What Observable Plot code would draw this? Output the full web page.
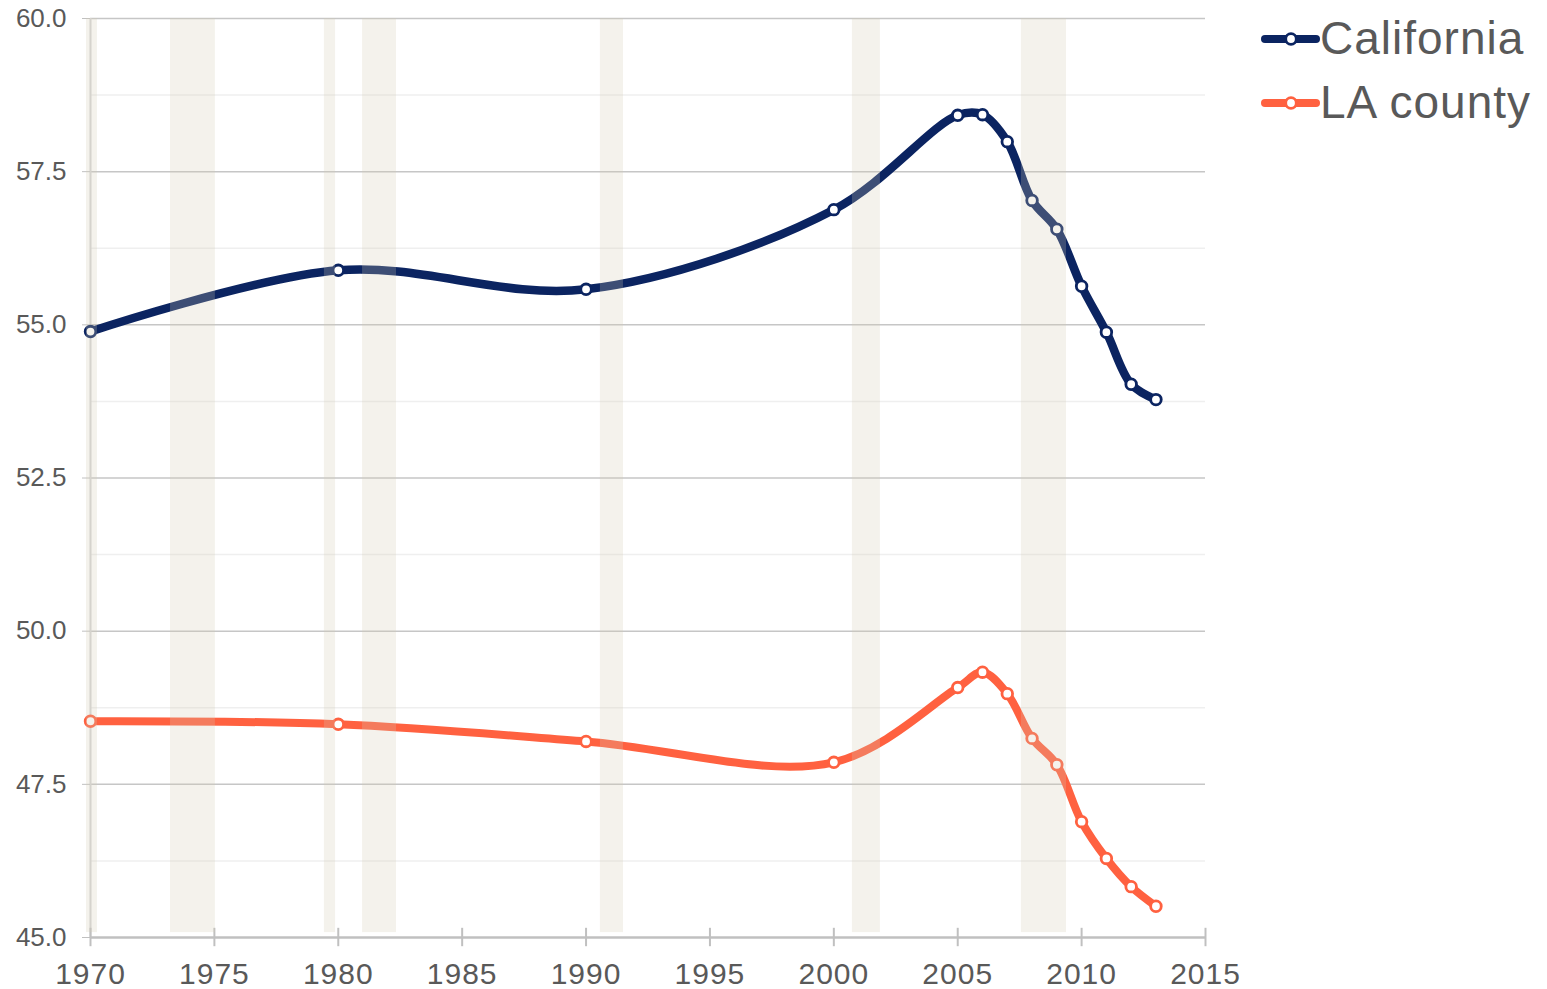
<!DOCTYPE html>
<html>
<head>
<meta charset="utf-8">
<script src="https://cdn.jsdelivr.net/npm/d3@7"></script>
<script src="https://cdn.jsdelivr.net/npm/@observablehq/plot@0.6"></script>
<style>
  body { margin: 0; background: #fff; font-family: "Liberation Sans", Arial, sans-serif; }
  #wrap { position: relative; width: 1547px; height: 989px; }
  #legend { position: absolute; left: 1255px; top: 0; }
  g[aria-label="x-axis tick label"] text { letter-spacing: 1px; }
</style>
</head>
<body>
<div id="wrap"></div>
<script>
// ---- data ----
const years = [1970, 1980, 1990, 2000, 2005, 2006, 2007, 2008, 2009, 2010, 2011, 2012, 2013];
const california = [54.89, 55.89, 55.58, 56.88, 58.42, 58.43, 57.99, 57.03, 56.56, 55.63, 54.88, 54.03, 53.78];
const laCounty   = [48.53, 48.48, 48.20, 47.86, 49.08, 49.33, 48.98, 48.25, 47.82, 46.89, 46.29, 45.83, 45.51];
const recessionStart = [1969.84, 1973.23, 1979.44, 1980.98, 1990.58, 2000.75, 2007.57];
const recessionEnd   = [1970.28, 1975.04, 1979.89, 1982.35, 1991.51, 2001.88, 2009.39];
const xTicks = [1970, 1975, 1980, 1985, 1990, 1995, 2000, 2005, 2010, 2015];
const yTicks = [45, 47.5, 50, 52.5, 55, 57.5, 60];
const yMinorTicks = [46.25, 48.75, 51.25, 53.75, 56.25, 58.75];
const seriesNames = ["California", "LA county"];
const seriesColors = ["#0b2461", "#ff6140"];

// ---- tables built from the arrays ----
const caRows = years.map((y, i) => ({year: y, value: california[i]}));
const laRows = years.map((y, i) => ({year: y, value: laCounty[i]}));
const bands = recessionStart.map((s, i) => ({start: s, end: recessionEnd[i]}));

const gridColor = "#c6c6c6";
const axisColor = "#c0c0c0";
const textColor = "#595959";

const chart = Plot.plot({
  width: 1547,
  height: 989,
  marginLeft: 90,
  marginRight: 342,
  marginTop: 18,
  marginBottom: 52,
  style: {fontFamily: '"Liberation Sans", Arial, sans-serif', background: "#fff"},
  x: {domain: [1970, 2015]},
  y: {domain: [45, 60]},
  marks: [
    Plot.ruleY(yMinorTicks, {stroke: "#efefef", strokeWidth: 1.5}),
    Plot.ruleY(yTicks.filter(d => d > 45), {stroke: gridColor, strokeWidth: 1.5}),
    Plot.ruleX([1970], {stroke: "#d6d6d6", strokeWidth: 2}),
    Plot.ruleY([45], {stroke: axisColor, strokeWidth: 2.5}),
    Plot.ruleX(xTicks, {y1: 45 - 0.15, y2: 45 + 0.15, stroke: axisColor, strokeWidth: 2}),
    Plot.axisY({ticks: yTicks, tickSize: 8, tickPadding: 16, fontSize: 26,
      tickFormat: d => d.toFixed(1), stroke: axisColor, fill: textColor, label: null}),
    Plot.axisX({ticks: xTicks, tickSize: 0, tickPadding: 25, fontSize: 30,
      tickFormat: d => String(d), fill: textColor, label: null}),
    Plot.line(caRows, {x: "year", y: "value", stroke: seriesColors[0], strokeWidth: 8.5, curve: "catmull-rom"}),
    Plot.line(laRows, {x: "year", y: "value", stroke: seriesColors[1], strokeWidth: 8, curve: "catmull-rom"}),
    Plot.dot(caRows, {x: "year", y: "value", r: 5.3, fill: "#fff", stroke: seriesColors[0], strokeWidth: 2.8}),
    Plot.dot(laRows, {x: "year", y: "value", r: 5.3, fill: "#fff", stroke: seriesColors[1], strokeWidth: 2.8}),
    Plot.rectY(bands, {x1: "start", x2: "end", y1: 45.08, y2: 60, fill: "#d2cbb5", fillOpacity: 0.25})
  ]
});
document.getElementById("wrap").appendChild(chart);

// ---- legend ----
const ns = "http://www.w3.org/2000/svg";
const leg = document.createElementNS(ns, "svg");
leg.setAttribute("id", "legend");
leg.setAttribute("width", 292);
leg.setAttribute("height", 140);
const rowsY = [39, 103];
seriesNames.forEach((name, i) => {
  const cy = rowsY[i];
  const line = document.createElementNS(ns, "line");
  line.setAttribute("x1", 10); line.setAttribute("x2", 61);
  line.setAttribute("y1", cy); line.setAttribute("y2", cy);
  line.setAttribute("stroke", seriesColors[i]);
  line.setAttribute("stroke-width", 8);
  line.setAttribute("stroke-linecap", "round");
  leg.appendChild(line);
  const c = document.createElementNS(ns, "circle");
  c.setAttribute("cx", 36); c.setAttribute("cy", cy); c.setAttribute("r", 5.3);
  c.setAttribute("fill", "#fff"); c.setAttribute("stroke", seriesColors[i]);
  c.setAttribute("stroke-width", 2.8);
  leg.appendChild(c);
  const t = document.createElementNS(ns, "text");
  t.setAttribute("x", 65); t.setAttribute("y", cy + 15);
  t.setAttribute("font-size", 46);
  t.setAttribute("letter-spacing", "1px");
  t.setAttribute("fill", textColor);
  t.setAttribute("font-family", '"Liberation Sans", Arial, sans-serif');
  t.textContent = name;
  leg.appendChild(t);
});
document.getElementById("wrap").appendChild(leg);
</script>
</body>
</html>
